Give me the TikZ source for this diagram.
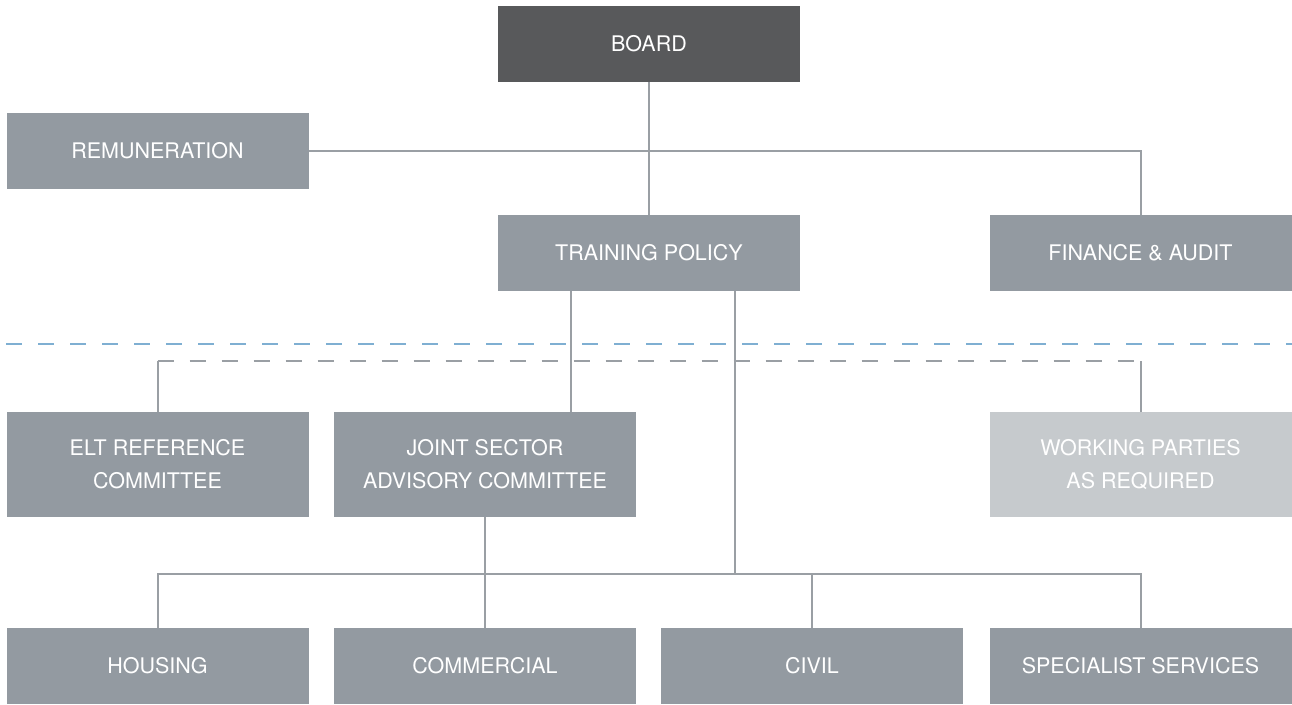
\documentclass[tikz,border=0pt]{standalone}
\usepackage{fontspec}
\setmainfont{TeX Gyre Heros}
\usetikzlibrary{positioning}
\definecolor{boxgray}{HTML}{939AA1}
\definecolor{boardgray}{HTML}{58595B}
\definecolor{palegray}{HTML}{C6CACD}
\definecolor{linegray}{HTML}{9A9FA4}
\definecolor{sepblue}{HTML}{7FAFD2}

\begin{document}
\begin{tikzpicture}[x=1pt, y=-1pt, font=\fontsize{21.5}{33}\selectfont,
  b/.style={fill=boxgray, text=white, align=center, inner sep=0pt, minimum width=302pt, minimum height=76pt},
  bb/.style={b, minimum height=105pt},
  l/.style={draw=linegray, line width=2pt},
  dl/.style={l, dash pattern=on 16pt off 16pt},
  sep/.style={draw=sepblue, line width=2.6pt, dash pattern=on 16pt off 16pt}]
\useasboundingbox (0,0) rectangle (1292,704);
% top levels
\node[b, fill=boardgray] (board) at (649,44) {BOARD};
\node[b] (rem) at (157.5,150.5) {REMUNERATION};
\node[b] (tp) at (649,253) {TRAINING POLICY};
\node[b] (fin) at (1140.5,253) {FINANCE \& AUDIT};
% committees
\node[bb] (elt) at (157.5,464.5) {ELT REFERENCE\\COMMITTEE};
\node[bb] (jsac) at (485,464.5) {JOINT SECTOR\\ADVISORY COMMITTEE};
\node[bb, fill=palegray] (wp) at (1140.5,464.5) {WORKING PARTIES\\AS REQUIRED};
% sectors
\node[b] (hou) at (157.5,666) {HOUSING};
\node[b] (com) at (485,666) {COMMERCIAL};
\node[b] (civ) at (812,666) {CIVIL};
\node[b] (spec) at (1140.5,666) {SPECIALIST SERVICES};
\coordinate (wpline) at (0,361);
\coordinate (bus) at (0,574);
% separator
\draw[sep] (6,344) -- (1292,344);
% dashed link to committees
\draw[l] (elt.north) -- (elt |- wpline);
\draw[dl] (elt |- wpline) -- (wp |- wpline);
\draw[l] (wp |- wpline) -- (wp.north);
% reporting lines
\draw[l] (board) -- (tp);
\draw[l] (rem) -- (rem -| fin) -- (fin);
\draw[l] ([xshift=-78pt]tp.south) coordinate (tpl) -- (tpl |- jsac.north);
\draw[l] ([xshift=86pt]tp.south) coordinate (tpr) -- (tpr |- bus);
\draw[l] (jsac) -- (jsac |- bus);
\draw[l] (hou) -- (hou |- bus) -- (spec |- bus) -- (spec);
\draw[l] (com) -- (com |- bus);
\draw[l] (civ) -- (civ |- bus);
\end{tikzpicture}
\end{document}
